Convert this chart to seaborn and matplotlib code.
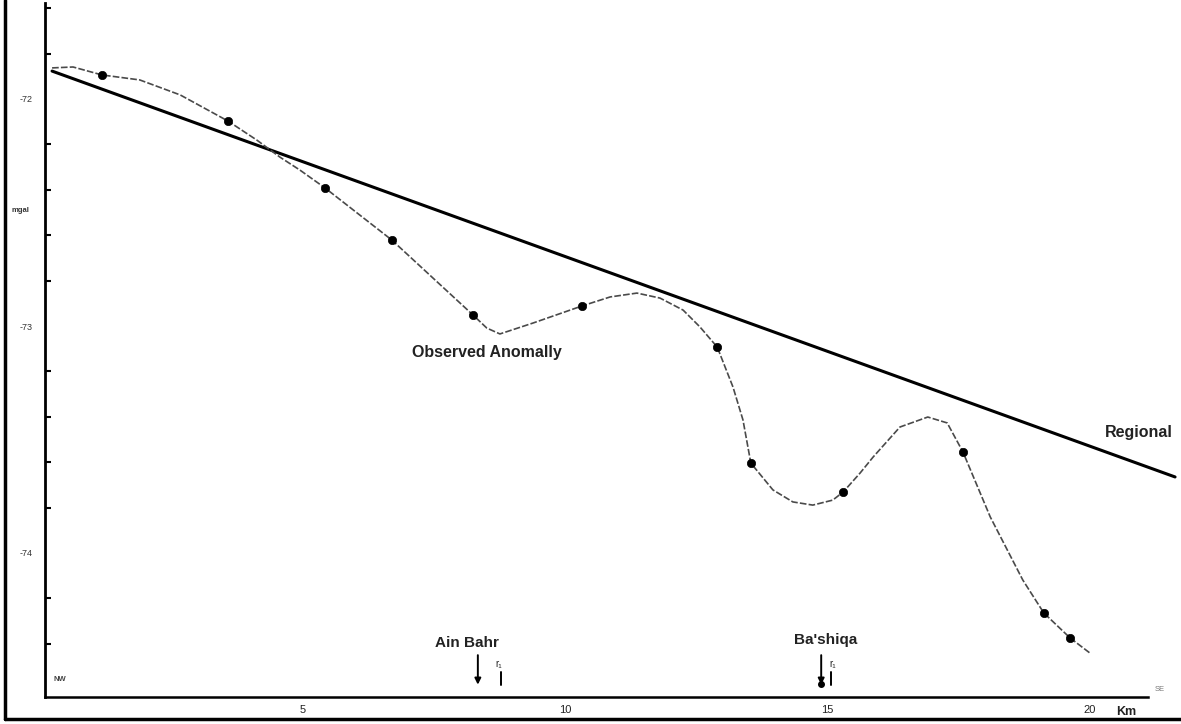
import matplotlib
matplotlib.use("Agg")
import matplotlib.pyplot as plt
import seaborn as sns
import pandas as pd
from matplotlib.lines import Line2D

# ---- data (km along profile, mgal) ----
station_km = [1.18, 3.58, 5.43, 6.70, 8.25, 10.32, 12.90, 13.54, 15.30, 17.58, 19.12, 19.62]
station_mgal = [-71.894, -72.097, -72.392, -72.621, -72.952, -72.912, -73.093, -73.604,
                -73.731, -73.555, -74.264, -74.374]

curve_km = [0.23, 0.63, 1.18, 1.90, 2.67, 3.58, 4.13, 4.57, 4.95, 5.43, 6.70, 8.25, 8.51,
            8.76, 9.39, 10.32, 10.86, 11.37, 11.81, 12.25, 12.57, 12.90, 13.20, 13.39,
            13.54, 13.96, 14.34, 14.72, 15.10, 15.30, 15.62, 15.87, 16.38, 16.91, 17.28,
            17.58, 18.10, 18.72, 19.12, 19.62, 20.00]
curve_mgal = [-71.863, -71.859, -71.894, -71.916, -71.982, -72.097, -72.181, -72.256,
              -72.313, -72.392, -72.621, -72.952, -73.009, -73.035, -72.987, -72.912,
              -72.872, -72.855, -72.877, -72.930, -73.004, -73.093, -73.269, -73.414,
              -73.604, -73.722, -73.775, -73.789, -73.767, -73.731, -73.648, -73.577,
              -73.445, -73.401, -73.427, -73.555, -73.841, -74.119, -74.264, -74.374,
              -74.441]

regional_km = [0.23, 21.62]
regional_mgal = [-71.877, -73.665]

xtick_km = list(range(1, 22))
xtick_labels = {5: "5", 10: "10", 15: "15", 20: "20"}
ytick_major = [-72, -73, -74]
ytick_labels = ["-72", "-73", "-74"]
ytick_minor = [-71.6, -71.8, -72.2, -72.4, -72.6, -72.8, -73.2, -73.4, -73.6, -73.8,
               -74.2, -74.4]

places = ["Ain Bahr", "Ba'shiqa"]
place_km = [8.34, 14.88]

# ---- figure ----
sns.set_theme(style="white")
plt.rcParams["font.family"] = ["Liberation Sans", "DejaVu Sans"]

W, H = 1181, 724
fig = plt.figure(figsize=(W / 100, H / 100), dpi=100)
fig.patch.set_facecolor("white")
ax = fig.add_axes([45 / W, (H - 697) / H, (W - 45) / W, (697 - 3) / H])
ax.set_facecolor("white")

curve_df = pd.DataFrame({"km": curve_km, "mgal": curve_mgal})
st_df = pd.DataFrame({"km": station_km, "mgal": station_mgal})
reg_df = pd.DataFrame({"km": regional_km, "mgal": regional_mgal})

sns.lineplot(data=reg_df, x="km", y="mgal", ax=ax, color="black", lw=2.2, sort=False)
sns.lineplot(data=curve_df, x="km", y="mgal", ax=ax, color="#4a4a4a", lw=1.2,
             sort=False, linestyle=(0, (4, 1.3)))
sns.scatterplot(data=st_df, x="km", y="mgal", ax=ax, color="black", s=36,
                marker="o", edgecolor="black", linewidth=0.5, zorder=5)

ax.set_xlim((45 - 40) / 52.5, (W - 40) / 52.5)
ax.set_ylim(-72 - (697 - 99) / 227, -72 + (99 - 3) / 227)
ax.set_xlabel("")
ax.set_ylabel("")

for s in ["top", "right"]:
    ax.spines[s].set_visible(False)
ax.spines["left"].set_linewidth(2.0)
ax.spines["left"].set_color("black")
ax.spines["bottom"].set_linewidth(1.8)
ax.spines["bottom"].set_color("black")
ax.spines["bottom"].set_bounds((45 - 40) / 52.5, 21.1)

ax.set_xticks(xtick_km)
ax.set_xticklabels([xtick_labels.get(k, "") for k in xtick_km])
ax.tick_params(axis="x", direction="in", length=5, width=1.3, color="black",
               labelsize=8, pad=6, labelcolor="#222222")
ax.set_yticks(ytick_major)
ax.set_yticklabels(ytick_labels)
ax.set_yticks(ytick_minor, minor=True)
ax.tick_params(axis="y", which="both", direction="in", length=4, width=1.5,
               color="black", labelsize=6.5, pad=9, labelcolor="#333333")
ax.tick_params(axis="y", which="minor", left=True)

# axis unit labels
ax.text(20.68, -74.70, "Km", fontsize=9, fontweight="bold", ha="center", va="center",
        clip_on=False, color="#222222")
fig.text(20 / W, (H - 210) / H, "mgal", fontsize=5.5, fontweight="bold",
         ha="center", va="center", color="#333333")
ax.text(0.38, -74.559, "NW", fontsize=5.5, fontweight="bold", ha="center",
        va="center", color="#444444")
ax.text(21.33, -74.60, "SE", fontsize=5.5, ha="center", va="center", color="#777777")

# curve labels
ax.text(8.51, -73.115, "Observed Anomally", fontsize=11.5, fontweight="bold",
        ha="center", va="center", color="#222222")
ax.text(20.29, -73.467, "Regional", fontsize=11.5, fontweight="bold",
        ha="left", va="center", color="#222222", clip_on=False)

# place markers
label_dx = [-0.21, 0.08]
label_y = [-74.396, -74.383]
r_dx = [0.40, 0.22]
bar_dx = [0.44, 0.19]
for name, km, dx, ly, rdx, bdx in zip(places, place_km, label_dx, label_y, r_dx, bar_dx):
    ax.text(km + dx, ly, name, fontsize=11, fontweight="bold", ha="center",
            va="center", color="#222222")
    ax.annotate("", xy=(km, -74.58), xytext=(km, -74.45),
                arrowprops=dict(arrowstyle="-|>", color="black", lw=1.4,
                                mutation_scale=9, shrinkA=0, shrinkB=0))
    ax.text(km + rdx, -74.49, "r\u2081", fontsize=7, ha="center", va="center",
            color="#222222")
    ax.plot([km + bdx, km + bdx], [-74.525, -74.58], color="black", lw=1.4)
ax.plot([place_km[1]], [-74.575], marker="o", color="black", ms=4)

# outer frame of the scanned figure
fig.add_artist(Line2D([5 / W, 5 / W], [(H - 719) / H, 1.0], transform=fig.transFigure,
                      color="black", lw=2.5))
fig.add_artist(Line2D([5 / W, 1.0], [(H - 719) / H, (H - 719) / H],
                      transform=fig.transFigure, color="black", lw=2.5))

fig.savefig("out.png", dpi=100, facecolor="white")
